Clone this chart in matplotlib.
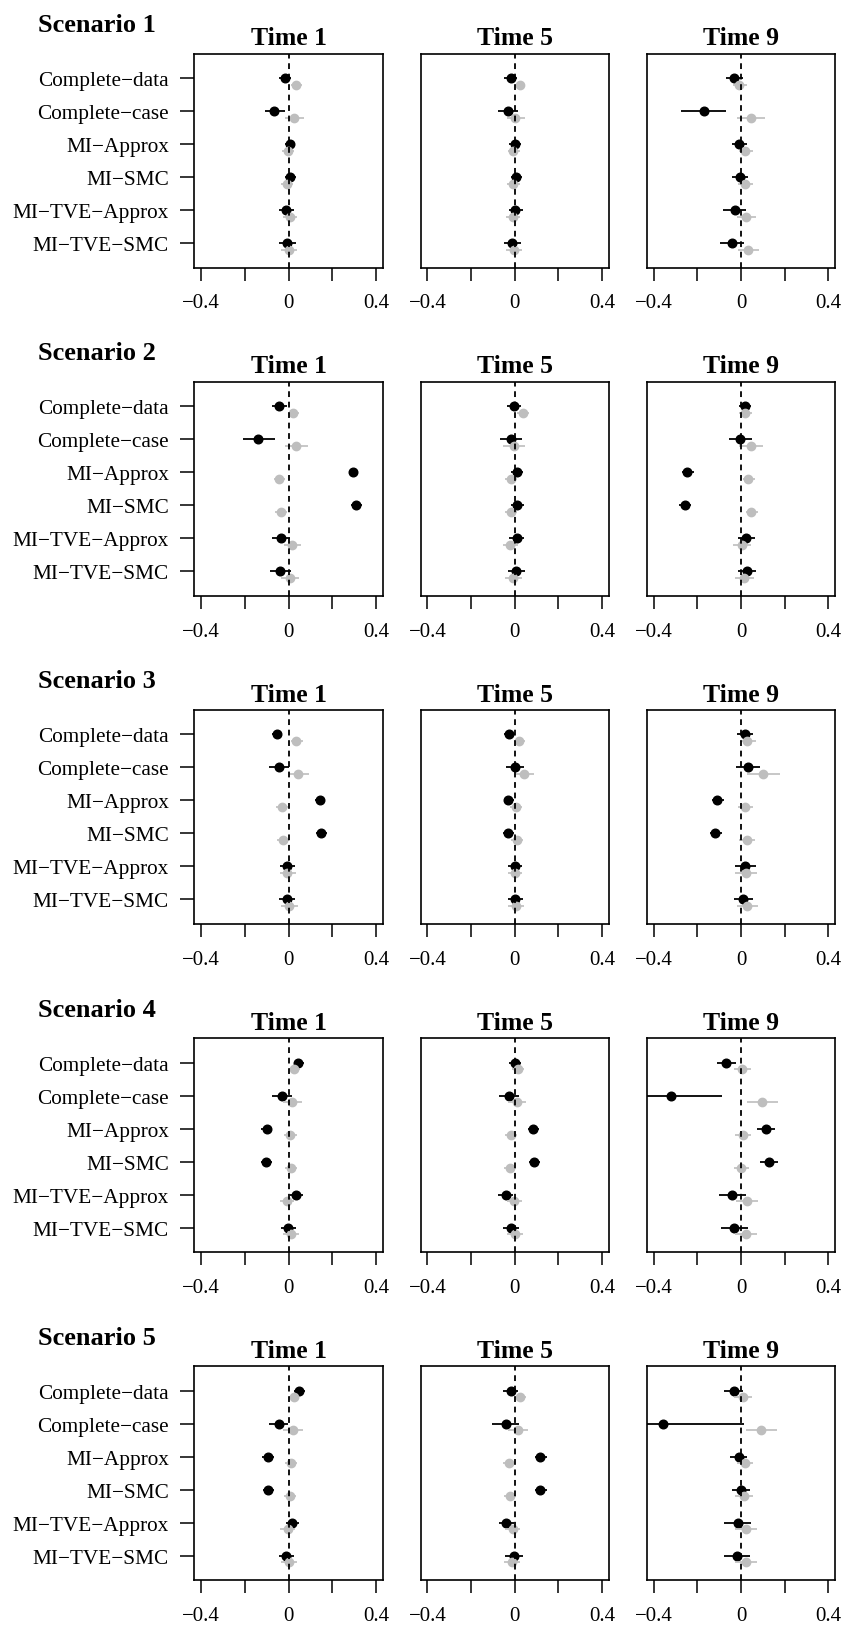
import numpy as np
import matplotlib
matplotlib.use("Agg")
import matplotlib.pyplot as plt

plt.rcParams["font.family"] = ["Liberation Serif", "DejaVu Serif"]

methods = ["Complete\u2212data", "Complete\u2212case", "MI\u2212Approx",
           "MI\u2212SMC", "MI\u2212TVE\u2212Approx", "MI\u2212TVE\u2212SMC"]
times = ["Time 1", "Time 5", "Time 9"]
scenarios = ["Scenario 1", "Scenario 2", "Scenario 3", "Scenario 4", "Scenario 5"]

xticks = [-0.4, -0.2, 0, 0.2, 0.4]
xticklabels = ["\u22120.4", "", "0", "", "0.4"]

# indexed [scenario][time][method]
black_est = np.array([
    [[-0.017, -0.065, 0.006, 0.008, -0.010, -0.006],
     [-0.019, -0.032, 0.002, 0.006, 0.002, -0.011],
     [-0.032, -0.171, -0.008, -0.006, -0.028, -0.042]],
    [[-0.044, -0.138, 0.297, 0.310, -0.034, -0.040],
     [-0.004, -0.019, 0.010, 0.011, 0.010, 0.008],
     [0.019, -0.004, -0.245, -0.257, 0.025, 0.027]],
    [[-0.055, -0.046, 0.142, 0.151, -0.006, -0.008],
     [-0.027, 0.002, -0.029, -0.029, 0.002, 0.002],
     [0.017, 0.034, -0.108, -0.118, 0.019, 0.011]],
    [[0.044, -0.031, -0.101, -0.103, 0.036, -0.002],
     [0.002, -0.027, 0.084, 0.090, -0.042, -0.017],
     [-0.067, -0.322, 0.114, 0.128, -0.040, -0.030]],
    [[0.050, -0.046, -0.096, -0.094, 0.015, -0.011],
     [-0.019, -0.042, 0.118, 0.116, -0.038, -0.004],
     [-0.034, -0.358, -0.011, -0.002, -0.015, -0.019]],
])
black_lo = np.array([
    [[-0.042, -0.110, -0.015, -0.015, -0.044, -0.042],
     [-0.048, -0.078, -0.025, -0.019, -0.027, -0.048],
     [-0.070, -0.275, -0.042, -0.042, -0.080, -0.095]],
    [[-0.078, -0.211, 0.276, 0.287, -0.078, -0.084],
     [-0.034, -0.067, -0.019, -0.017, -0.025, -0.030],
     [-0.008, -0.055, -0.270, -0.282, -0.013, -0.013]],
    [[-0.078, -0.088, 0.119, 0.128, -0.038, -0.042],
     [-0.051, -0.040, -0.051, -0.053, -0.029, -0.030],
     [-0.017, -0.021, -0.133, -0.144, -0.025, -0.034]],
    [[0.023, -0.075, -0.124, -0.128, 0.008, -0.034],
     [-0.025, -0.074, 0.059, 0.065, -0.076, -0.053],
     [-0.112, -0.460, 0.074, 0.088, -0.101, -0.091]],
    [[0.027, -0.088, -0.121, -0.119, -0.013, -0.046],
     [-0.053, -0.103, 0.093, 0.091, -0.074, -0.044],
     [-0.076, -0.500, -0.050, -0.040, -0.076, -0.078]],
])
black_hi = np.array([
    [[0.011, -0.015, 0.031, 0.034, 0.025, 0.033],
     [0.010, 0.017, 0.030, 0.034, 0.036, 0.029],
     [0.010, -0.067, 0.028, 0.032, 0.023, 0.015]],
    [[-0.008, -0.063, 0.318, 0.337, 0.008, 0.011],
     [0.029, 0.032, 0.040, 0.042, 0.044, 0.048],
     [0.048, 0.051, -0.215, -0.230, 0.065, 0.067]],
    [[-0.033, 0.000, 0.165, 0.176, 0.031, 0.029],
     [0.000, 0.044, -0.002, -0.004, 0.034, 0.036],
     [0.053, 0.089, -0.076, -0.087, 0.067, 0.057]],
    [[0.069, 0.015, -0.075, -0.078, 0.065, 0.033],
     [0.030, 0.021, 0.112, 0.118, -0.006, 0.021],
     [-0.021, -0.089, 0.156, 0.170, 0.023, 0.032]],
    [[0.075, -0.002, -0.065, -0.065, 0.050, 0.025],
     [0.015, 0.019, 0.149, 0.147, -0.002, 0.040],
     [0.011, 0.015, 0.030, 0.042, 0.046, 0.042]],
])
grey_est = np.array([
    [[0.033, 0.025, -0.004, -0.008, 0.006, 0.000],
     [0.023, 0.002, -0.006, -0.008, -0.010, -0.004],
     [-0.010, 0.044, 0.019, 0.019, 0.023, 0.032]],
    [[0.021, 0.034, -0.042, -0.036, 0.015, 0.008],
     [0.036, -0.004, -0.017, -0.019, -0.021, -0.010],
     [0.017, 0.046, 0.034, 0.048, 0.004, 0.015]],
    [[0.033, 0.044, -0.031, -0.027, -0.006, 0.004],
     [0.021, 0.042, 0.006, 0.010, 0.000, 0.006],
     [0.027, 0.103, 0.019, 0.027, 0.023, 0.029]],
    [[0.023, 0.015, 0.008, 0.010, -0.006, 0.011],
     [0.015, 0.010, -0.017, -0.023, -0.002, 0.000],
     [0.004, 0.097, 0.010, 0.000, 0.029, 0.021]],
    [[0.023, 0.019, 0.010, 0.008, -0.004, 0.004],
     [0.025, 0.015, -0.027, -0.023, -0.010, -0.013],
     [0.008, 0.091, 0.019, 0.013, 0.023, 0.023]],
])
grey_lo = np.array([
    [[0.011, -0.015, -0.031, -0.036, -0.027, -0.036],
     [0.002, -0.034, -0.032, -0.034, -0.042, -0.040],
     [-0.038, -0.019, -0.010, -0.015, -0.019, -0.013]],
    [[-0.004, -0.017, -0.065, -0.063, -0.023, -0.034],
     [0.011, -0.053, -0.044, -0.046, -0.053, -0.046],
     [-0.010, -0.010, 0.008, 0.021, -0.038, -0.025]],
    [[0.011, 0.002, -0.057, -0.054, -0.040, -0.034],
     [-0.004, 0.004, -0.023, -0.019, -0.030, -0.030],
     [-0.006, 0.027, -0.015, -0.010, -0.025, -0.019]],
    [[0.004, -0.027, -0.019, -0.017, -0.038, -0.027],
     [-0.011, -0.030, -0.044, -0.050, -0.034, -0.036],
     [-0.032, 0.027, -0.027, -0.034, -0.021, -0.029]],
    [[0.002, -0.025, -0.015, -0.019, -0.038, -0.033],
     [0.000, -0.030, -0.053, -0.051, -0.044, -0.050],
     [-0.034, 0.021, -0.019, -0.025, -0.027, -0.029]],
])
grey_hi = np.array([
    [[0.061, 0.069, 0.025, 0.021, 0.040, 0.038],
     [0.048, 0.046, 0.023, 0.023, 0.025, 0.032],
     [0.028, 0.108, 0.057, 0.055, 0.070, 0.084]],
    [[0.050, 0.090, -0.015, -0.008, 0.056, 0.050],
     [0.065, 0.046, 0.010, 0.010, 0.015, 0.034],
     [0.051, 0.103, 0.065, 0.078, 0.046, 0.059]],
    [[0.065, 0.094, -0.004, 0.002, 0.036, 0.044],
     [0.046, 0.086, 0.034, 0.038, 0.034, 0.042],
     [0.067, 0.179, 0.055, 0.063, 0.074, 0.078]],
    [[0.054, 0.063, 0.038, 0.040, 0.027, 0.048],
     [0.044, 0.051, 0.011, 0.006, 0.032, 0.036],
     [0.046, 0.171, 0.046, 0.036, 0.080, 0.074]],
    [[0.050, 0.067, 0.040, 0.036, 0.031, 0.040],
     [0.053, 0.061, 0.002, 0.006, 0.025, 0.025],
     [0.051, 0.163, 0.055, 0.053, 0.074, 0.074]],
])

W, H = 843, 1631
fig = plt.figure(figsize=(W / 100, H / 100), dpi=100)

ypos = np.arange(1, len(methods) + 1)
lefts = [194.3, 420.5, 646.7]
pw, ph = 188.5, 214.0
row_top0, row_step = 54.5, 328.2

for s in range(len(scenarios)):
    top = row_top0 + s * row_step
    fig.text(37.7 / W, 1 - (top - 22.5) / H, scenarios[s], fontsize=19,
             fontweight="bold", ha="left", va="baseline")
    for t in range(len(times)):
        ax = fig.add_axes([lefts[t] / W, 1 - (top + ph) / H, pw / W, ph / H])
        ax.hlines(ypos, black_lo[s, t], black_hi[s, t], color="black", lw=1.3)
        ax.plot(black_est[s, t], ypos, "o", color="black", ms=6.2)
        ax.hlines(ypos + 0.2, grey_lo[s, t], grey_hi[s, t], color="#BEBEBE", lw=1.2)
        ax.plot(grey_est[s, t], ypos + 0.2, "o", color="#BEBEBE", ms=6.0)
        ax.axvline(0, color="black", lw=1.3, ls=(0, (3.2, 2.6)), zorder=5)

        ax.set_xlim(-0.432, 0.432)
        ax.set_ylim(6.74, 0.26)
        ax.set_xticks(xticks)
        ax.set_xticklabels(xticklabels, fontsize=15)
        ax.tick_params(axis="x", length=9.7, width=1.1, pad=9, direction="out")
        if t == 0:
            ax.set_yticks(ypos)
            ax.set_yticklabels(methods, fontsize=15.3)
            ax.tick_params(axis="y", length=9.8, width=1.1, pad=8.5, direction="out")
        else:
            ax.set_yticks([])
        for sp in ax.spines.values():
            sp.set_linewidth(1.2)
        ax.set_title(times[t], fontsize=18.5, fontweight="bold", pad=6.7)

fig.savefig("out.png", dpi=100)
